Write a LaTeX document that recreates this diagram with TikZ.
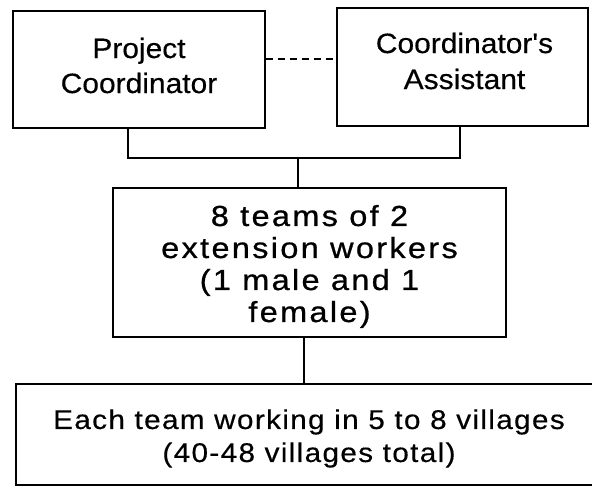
\documentclass[tikz,border=0pt]{standalone}
\usepackage{fontspec}
\setmainfont{Liberation Sans}
\newfontfamily\boxfont{Liberation Sans}[FakeStretch=1.07,FakeBold=0.4]
\newfontfamily\teamfont{Liberation Sans}[FakeStretch=1.12,LetterSpace=8,FakeBold=0.8]
\newfontfamily\villfont{Liberation Sans}[FakeStretch=1.1,LetterSpace=5,FakeBold=0.4]
\usepackage{tikz}
\usetikzlibrary{positioning}

\begin{document}
\begin{tikzpicture}[
        x=1pt, y=-1pt,
        unit/.style={draw, line width=1.6pt, inner sep=0pt},
        words/.style={align=center, inner sep=0pt},
        link/.style={line width=1.2pt}
      ]
      \useasboundingbox (0,0) rectangle (592,488);
      \clip (0,0) rectangle (592,488);

      % Coordinator boxes
      \node[unit, minimum width=252pt, minimum height=117pt,
        label={[words, yshift=4pt, font=\boxfont\fontsize{28}{35}\selectfont]center:Project\\Coordinator}] (pc) at (139, 69.5) {};
      \node[unit, minimum width=251pt, minimum height=118pt,
        label={[words, yshift=6pt, xshift=2pt, font=\boxfont\fontsize{28}{36}\selectfont]center:Coordinator's\\Assistant}] (ca) at (462.5, 67) {};

      \coordinate (dashL) at ([yshift=10.5pt]pc.east);
      \draw[link, dash pattern=on 7pt off 5pt] (dashL) -- (dashL -| ca.west);

      % Teams
      \node[unit, minimum width=393pt, minimum height=149pt,
        label={[words, yshift=-4pt, font=\teamfont\fontsize{29}{32}\selectfont]center:8 teams of 2\\extension workers\\(1 male and 1\\female)}] (teams) at (309.5, 262.5) {};

      \coordinate (bus) at (298, 158);
      \draw[link] ([xshift=-11pt]pc.south) |- (bus) -| ([xshift=-2.5pt]ca.south);
      \draw[link] (bus) -- (bus |- teams.north);

      % Villages
      \node[unit, minimum width=586pt, minimum height=101pt,
        label={[words, yshift=-4pt, font=\villfont\fontsize{27}{33}\selectfont]center:Each team working in 5 to 8 villages\\(40-48 villages total)}] (villages) at (309, 434.5) {};

      \draw[link] ([xshift=-5.5pt]teams.south) -- ([xshift=-5.5pt]teams.south |- villages.north);
  \end{tikzpicture}
\end{document}
